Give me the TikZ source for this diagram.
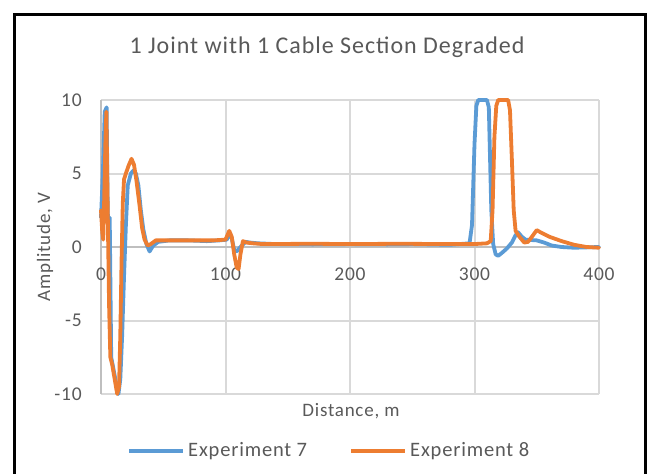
\documentclass[tikz,border=0pt]{standalone}
\usepackage{fontspec}
\setmainfont{Carlito}[LetterSpace=4]
\usepackage{tikz}
\pgfdeclarelayer{edgelayer}
\pgfdeclarelayer{nodelayer}
\pgfsetlayers{edgelayer,nodelayer,main}
\definecolor{gridgrey}{HTML}{D9D9D9}
\definecolor{axisgrey}{HTML}{BFBFBF}
\definecolor{textgrey}{HTML}{595959}
\definecolor{exp7blue}{HTML}{5B9BD5}
\definecolor{exp8orange}{HTML}{ED7D31}
\tikzstyle{gridline}=[draw=gridgrey, line width=2]
\tikzstyle{axisline}=[draw=axisgrey, line width=2]
\tikzstyle{ticklabel}=[text=textgrey, font=\fontsize{19.5}{19.5}\selectfont, inner sep=0]
\tikzstyle{axistitle}=[text=textgrey, font=\fontsize{19}{19}\selectfont, inner sep=0]
\tikzstyle{charttitle}=[text=textgrey, font=\fontsize{24}{24}\selectfont, inner sep=0]
\tikzstyle{legendlabel}=[text=textgrey, font=\fontsize{20.5}{20.5}\selectfont, inner sep=0, anchor=west]
\tikzstyle{series7}=[draw=exp7blue, line width=3.8, line join=round, line cap=round]
\tikzstyle{series8}=[draw=exp8orange, line width=3.8, line join=round, line cap=round]

\begin{document}
\begin{tikzpicture}[x=1pt, y=-1pt]
	\useasboundingbox (0, 0) rectangle (651, 474);
	\draw [line width=3] (14, 474) -- (14, 14) -- (645, 14) -- (645, 474);
	\begin{pgfonlayer}{nodelayer}
		\node [style=charttitle] (title) at (327, 47) {1 Joint with 1 Cable Section Degraded};
		\node [style=axistitle, rotate=90] (ytitle) at (45, 247) {Amplitude, V};
		\node [style=axistitle] (xtitle) at (351, 411) {Distance, m};
		\coordinate (key7a) at (129, 451);
		\coordinate (key7b) at (183, 451);
		\coordinate (key8a) at (351, 451);
		\coordinate (key8b) at (405, 451);
		\node [style=legendlabel] (leg7) at (188, 451) {Experiment 7};
		\node [style=legendlabel] (leg8) at (410, 451) {Experiment 8};
	\end{pgfonlayer}
	\draw [style=series7, line cap=butt] (key7a) -- (key7b);
	\draw [style=series8, line cap=butt] (key8a) -- (key8b);
	\begin{scope}[shift={(101, 247)}, x=1.245pt, y=14.7pt]
		\begin{pgfonlayer}{edgelayer}
			\foreach \d in {100,200,...,400}
				\draw [style=gridline] (\d, -10) -- (\d, 10);
			\foreach \v in {-10,-5,5,10}
				\draw [style=gridline] (0, \v) -- (400, \v);
			\draw [style=axisline] (0, -10) -- (0, 10);
			\draw [style=axisline] (0, 0) -- (400, 0);
		\end{pgfonlayer}
		\begin{pgfonlayer}{nodelayer}
			\foreach \v in {-10,-5,0,5,10}
				\node [style=ticklabel, anchor=east] (ylab\v) at (-15.3, \v) {\v};
			\foreach \d in {0,100,...,400}
				\node [style=ticklabel] (xlab\d) at (\d, -1.84) {\d};
		\end{pgfonlayer}
		% Experiment 7
		\draw [style=series7] plot coordinates {
			(0,2.0) (1.5,5) (3,9.2) (4.5,9.5) (5.2,4) (5.8,0.5) (6.5,1.5) (7,2.0)
			(7.5,-2) (8.2,-7.5) (10,-8.3) (12,-9.2) (14,-10) (15.5,-9) (17,-6)
			(18.5,-2) (20,1.5) (21.5,4.2) (24,5) (26,5.2) (28,5.0) (30,4.2)
			(32,2.5) (34,1.2) (36.5,0.2) (39,-0.3) (42,0.1) (46,0.35) (55,0.45)
			(70,0.45) (85,0.4) (95,0.45) (101,0.5) (103.5,0.9) (105,0.6)
			(107,-0.2) (109,-0.3) (112,0.0) (116,0.35) (120,0.3) (126,0.25)
			(140,0.2) (170,0.18) (200,0.2) (230,0.18) (250,0.2) (280,0.15)
			(296,0.25) (298,1.5) (300,7) (301.5,9.6) (303,10) (310,10)
			(311.5,9.5) (312.5,6) (313.5,2.5) (315,0.2) (317,-0.5) (319,-0.6)
			(322,-0.4) (326,-0.1) (330,0.3) (333,0.8) (335,1.0) (338,0.7)
			(341,0.5) (350,0.45) (356,0.3) (362,0.1) (370,0) (380,-0.05) (400,0.0)
		};
		% Experiment 8
		\draw [style=series8] plot coordinates {
			(0,2.5) (1,1.0) (1.8,0.5) (2.5,3) (3.5,7) (4.3,9.2) (5,5) (5.8,0)
			(6.5,-4) (7.5,-7.5) (9,-8) (11,-9) (13,-10) (14.5,-9.5) (15.5,-6)
			(16.5,-1) (17.5,3) (18.5,4.6) (20,5) (22,5.5) (24.5,6.0) (26.5,5.6)
			(28.5,4.5) (31,2.8) (33,1.3) (35,0.5) (37.5,0.1) (40,0.2) (44,0.45)
			(55,0.45) (70,0.45) (90,0.45) (100,0.5) (103,1.1) (105,0.7)
			(107,-0.5) (109,-1.4) (110.5,-1.5) (112,-0.5) (114,0.4) (117,0.3)
			(122,0.25) (130,0.2) (170,0.22) (200,0.2) (240,0.22) (280,0.2)
			(300,0.2) (310,0.25) (313,0.4) (314.5,2.5) (316,7.5) (317.5,9.6)
			(319,10) (327,10) (328.5,9.3) (330,6) (331.5,2.5) (333,1.1)
			(336,0.7) (340,0.3) (343,0.35) (347,0.8) (350,1.15) (353,1.0)
			(360,0.7) (370,0.4) (380,0.15) (390,0.0) (400,-0.05)
		};
	\end{scope}
\end{tikzpicture}
\end{document}
